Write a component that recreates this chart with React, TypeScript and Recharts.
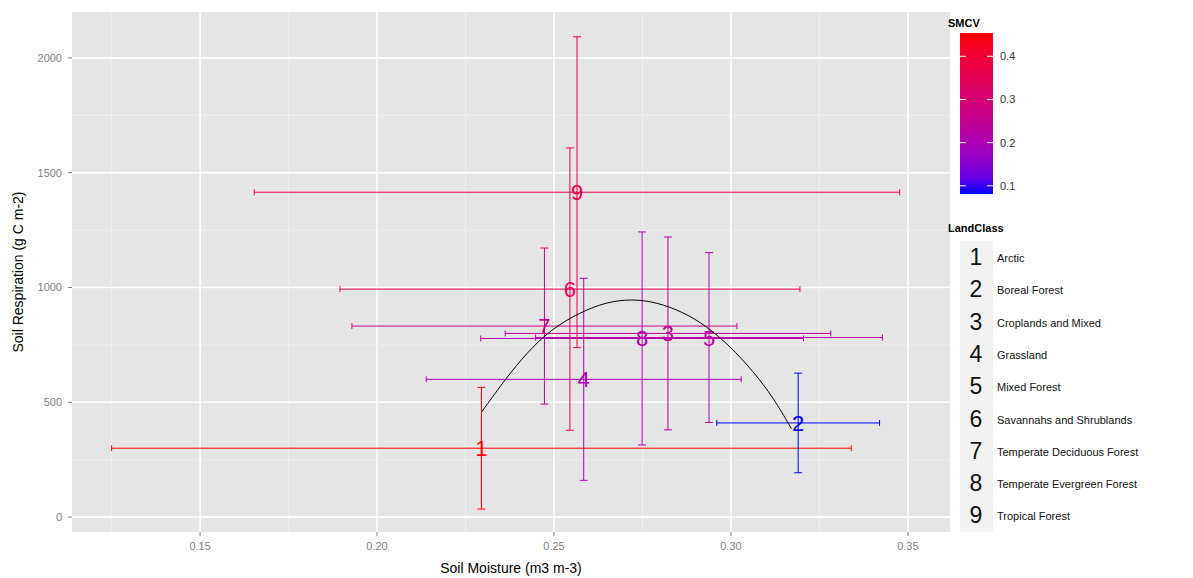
import {
  CartesianGrid,
  ComposedChart,
  ErrorBar,
  Label,
  ReferenceLine,
  Scatter,
  XAxis,
  YAxis,
} from "recharts";

const landClasses = [
  "Arctic",
  "Boreal Forest",
  "Croplands and Mixed",
  "Grassland",
  "Mixed Forest",
  "Savannahs and Shrublands",
  "Temperate Deciduous Forest",
  "Temperate Evergreen Forest",
  "Tropical Forest",
];
const soilMoisture = [0.2295, 0.319, 0.2822, 0.2584, 0.2938, 0.2545, 0.2473, 0.2749, 0.2565];
const moistureSd = [0.1045, 0.023, 0.046, 0.0445, 0.049, 0.065, 0.0544, 0.0456, 0.0912];
const respiration = [300, 410, 800, 600, 782, 993, 832, 778, 1415];
const respirationSd = [265, 217, 420, 440, 370, 615, 340, 464, 677];
const smcv = [0.454, 0.081, 0.24, 0.2, 0.22, 0.36, 0.27, 0.21, 0.38];

// fitted curve
const curveMoisture = [0.2296, 0.2366, 0.2423, 0.2489, 0.2573, 0.2649, 0.272, 0.279, 0.2865, 0.2931, 0.2997, 0.3063, 0.312, 0.3171];
const curveRespiration = [459, 608, 715, 815, 892, 937, 950, 936, 893, 832, 745, 635, 520, 385];

const xTicks = [0.15, 0.2, 0.25, 0.3, 0.35];
const xMinor = [0.125, 0.175, 0.225, 0.275, 0.325];
const yTicks = [0, 500, 1000, 1500, 2000];
const yMinor = [250, 750, 1250, 1750];
const smcvTicks = [0.1, 0.2, 0.3, 0.4];

// ggplot-like blue -> red gradient, interpolated in Lab
const toLin = (c: number) => {
  c /= 255;
  return c <= 0.04045 ? c / 12.92 : Math.pow((c + 0.055) / 1.055, 2.4);
};
const fromLin = (c: number) => {
  const v = c <= 0.0031308 ? 12.92 * c : 1.055 * Math.pow(c, 1 / 2.4) - 0.055;
  return Math.round(Math.max(0, Math.min(1, v)) * 255);
};
function toLab(rgb: number[]) {
  const [R, G, B] = rgb.map(toLin);
  const X = (0.4124 * R + 0.3576 * G + 0.1805 * B) / 0.95047;
  const Y = 0.2126 * R + 0.7152 * G + 0.0722 * B;
  const Z = (0.0193 * R + 0.1192 * G + 0.9505 * B) / 1.08883;
  const f = (t: number) => (t > 0.008856 ? Math.cbrt(t) : 7.787 * t + 16 / 116);
  return [116 * f(Y) - 16, 500 * (f(X) - f(Y)), 200 * (f(Y) - f(Z))];
}
function fromLab([L, a, b]: number[]) {
  const fy = (L + 16) / 116;
  const fx = fy + a / 500;
  const fz = fy - b / 200;
  const inv = (t: number) => (t ** 3 > 0.008856 ? t ** 3 : (t - 16 / 116) / 7.787);
  const X = inv(fx) * 0.95047;
  const Y = inv(fy);
  const Z = inv(fz) * 1.08883;
  const r = fromLin(3.2406 * X - 1.5372 * Y - 0.4986 * Z);
  const g = fromLin(-0.9689 * X + 1.8758 * Y + 0.0415 * Z);
  const bl = fromLin(0.0557 * X - 0.204 * Y + 1.057 * Z);
  return `rgb(${r},${g},${bl})`;
}
const lowLab = toLab([0, 0, 255]);
const highLab = toLab([255, 0, 0]);
const smcvMin = Math.min(...smcv);
const smcvMax = Math.max(...smcv);
const colorFor = (v: number) => {
  const t = (v - smcvMin) / (smcvMax - smcvMin);
  return fromLab(lowLab.map((l, i) => l + (highLab[i] - l) * t));
};

const points = landClasses.map((name, i) => ({
  name,
  x: soilMoisture[i],
  y: respiration[i],
  xerr: moistureSd[i],
  yerr: respirationSd[i],
  color: colorFor(smcv[i]),
}));
const curve = curveMoisture.map((x, i) => ({ x, y: curveRespiration[i] }));

const FONT = '"Liberation Sans", Arial, sans-serif';
const BAR_TOP = 33;
const BAR_H = 161;

function ColourBar() {
  const stops = Array.from({ length: 11 }, (_, k) => k / 10);
  const yOf = (v: number) => BAR_TOP + BAR_H - ((v - smcvMin) / (smcvMax - smcvMin)) * BAR_H;
  return (
    <svg width={253} height={578} style={{ position: "absolute", left: 940, top: 0 }}>
      <defs>
        <linearGradient id="smcvGrad" x1="0" y1="1" x2="0" y2="0">
          {stops.map((t) => (
            <stop key={t} offset={`${t * 100}%`} stopColor={colorFor(smcvMin + t * (smcvMax - smcvMin))} />
          ))}
        </linearGradient>
      </defs>
      <text x={8} y={27} fontSize={11} fontWeight="bold" fontFamily={FONT}>SMCV</text>
      <rect x={20} y={BAR_TOP} width={33} height={BAR_H} fill="url(#smcvGrad)" />
      {smcvTicks.map((v) => (
        <g key={v}>
          <line x1={20} x2={26} y1={yOf(v)} y2={yOf(v)} stroke="#fff" strokeWidth={1} />
          <line x1={47} x2={53} y1={yOf(v)} y2={yOf(v)} stroke="#fff" strokeWidth={1} />
          <text x={60} y={yOf(v) + 4} fontSize={11} fill="#333" fontFamily={FONT}>{v.toFixed(1)}</text>
        </g>
      ))}
      <text x={8} y={232} fontSize={11} fontWeight="bold" fontFamily={FONT}>LandClass</text>
      {landClasses.map((name, i) => (
        <g key={name}>
          <rect x={20} y={241 + i * 32.3} width={33} height={32.3} fill="#F2F2F2" />
          <text x={36} y={265 + i * 32.3} fontSize={23} textAnchor="middle" fontFamily={FONT} fill="#111">{i + 1}</text>
          <text x={57} y={262 + i * 32.3} fontSize={11} fill="#111" fontFamily={FONT}>{name}</text>
        </g>
      ))}
    </svg>
  );
}

export default function App() {
  return (
    <div style={{ position: "absolute", left: 0, top: 0, width: 1193, height: 578, background: "#fff", fontFamily: FONT }}>
      <ComposedChart width={955} height={578} margin={{ top: 12, right: 5, bottom: 0, left: 0 }}>
        <CartesianGrid fill="#E5E5E5" stroke="#fff" strokeWidth={1.6} horizontalValues={yTicks} verticalValues={xTicks} />
        {xMinor.map((v) => (
          <ReferenceLine key={`x${v}`} x={v} stroke="#F2F2F2" strokeWidth={0.8} />
        ))}
        {yMinor.map((v) => (
          <ReferenceLine key={`y${v}`} y={v} stroke="#F2F2F2" strokeWidth={0.8} />
        ))}
        <XAxis
          type="number"
          dataKey="x"
          domain={[0.1138, 0.3619]}
          ticks={xTicks}
          allowDataOverflow
          tickFormatter={(v: number) => v.toFixed(2)}
          tick={{ fontSize: 11, fill: "#7F7F7F", fontFamily: FONT }}
          tickSize={4}
          tickMargin={6}
          tickLine={{ stroke: "#7F7F7F" }}
          axisLine={false}
          height={46}
        >
          <Label value="Soil Moisture (m3 m-3)" position="center" dy={13} fontSize={14} fill="#000" fontFamily={FONT} />
        </XAxis>
        <YAxis
          type="number"
          dataKey="y"
          domain={[-65, 2200]}
          ticks={yTicks}
          allowDataOverflow
          tick={{ fontSize: 11, fill: "#7F7F7F", fontFamily: FONT }}
          tickSize={4}
          tickMargin={6}
          tickLine={{ stroke: "#7F7F7F" }}
          axisLine={false}
          width={72}
        >
          <Label value="Soil Respiration (g C m-2)" angle={-90} position="center" dx={-18} fontSize={14} fill="#000" fontFamily={FONT} />
        </YAxis>
        {points.map((p, i) => (
          <Scatter
            key={p.name}
            name={p.name}
            data={[p]}
            dataKey="y"
            fill={p.color}
            isAnimationActive={false}
            shape={(props: any) => (
              <text x={props.cx} y={props.cy + 8} textAnchor="middle" fontSize={22} fill={p.color} fontFamily={FONT}>
                {i + 1}
              </text>
            )}
          >
            <ErrorBar dataKey="xerr" direction="x" width={3} stroke={p.color} strokeWidth={1} isAnimationActive={false} />
            <ErrorBar dataKey="yerr" direction="y" width={4} stroke={p.color} strokeWidth={1} isAnimationActive={false} />
          </Scatter>
        ))}
        <Scatter
          data={curve}
          dataKey="y"
          line={{ stroke: "#000", strokeWidth: 1 }}
          lineJointType="basis"
          shape={() => <g />}
          isAnimationActive={false}
        />
      </ComposedChart>
      <ColourBar />
    </div>
  );
}
